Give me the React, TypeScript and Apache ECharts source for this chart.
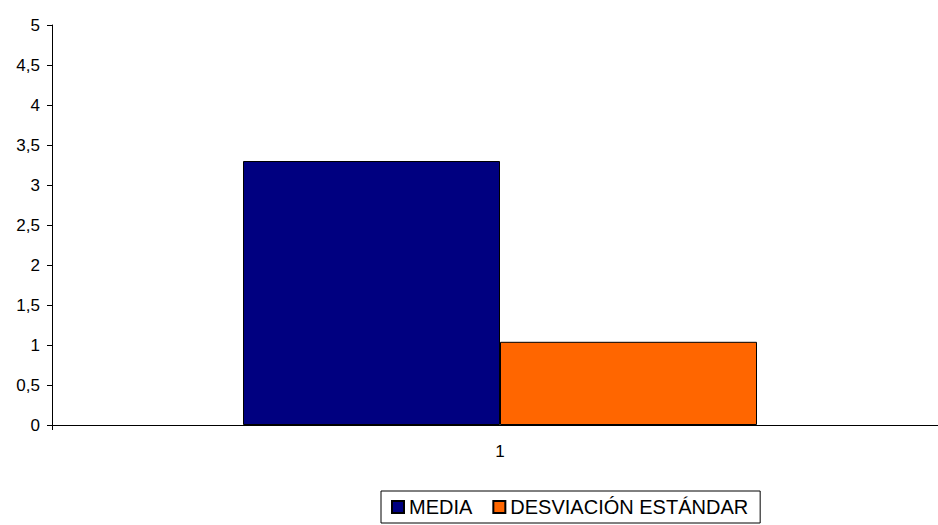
import React, { useEffect, useRef } from "react";
import * as echarts from "echarts";

const categories = ["1"];
const mediaValues = [3.3];
const desviacionValues = [1.04];
const seriesNames = ["MEDIA", "DESVIACIÓN ESTÁNDAR"];

export default function App() {
  const ref = useRef<HTMLDivElement>(null);
  useEffect(() => {
    if (!ref.current) return;
    const chart = echarts.init(ref.current, null, { renderer: "svg" });
    const font = "'Liberation Sans', Arial, sans-serif";
    chart.setOption({
      animation: false,
      backgroundColor: "#ffffff",
      grid: { left: 52, top: 25, width: 896, height: 400, containLabel: false },
      xAxis: {
        type: "category",
        data: categories,
        axisLine: { lineStyle: { color: "#000", width: 1 } },
        axisTick: { show: true, length: 5, lineStyle: { color: "#000" } },
        axisLabel: { color: "#000", fontSize: 17, fontFamily: font, margin: 18 },
        splitLine: { show: false },
      },
      yAxis: {
        type: "value",
        min: 0,
        max: 5,
        interval: 0.5,
        axisLine: { show: true, lineStyle: { color: "#000", width: 1 } },
        axisTick: { show: true, length: 5, lineStyle: { color: "#000" } },
        axisLabel: {
          color: "#000",
          fontSize: 17,
          fontFamily: font,
          margin: 12,
          formatter: (v: number) => String(v).replace(".", ","),
        },
        splitLine: { show: false },
      },
      legend: {
        data: seriesNames,
        left: 381,
        top: 491,
        icon: "rect",
        itemWidth: 12,
        itemHeight: 12,
        itemGap: 20,
        padding: [6, 12, 6, 10],
        borderColor: "#000",
        borderWidth: 1,
        textStyle: { color: "#000", fontSize: 20, fontFamily: font },
      },
      series: [
        {
          name: seriesNames[0],
          type: "bar",
          data: mediaValues,
          barWidth: 257,
          barGap: "0%",
          itemStyle: { color: "#000080", borderColor: "#000", borderWidth: 1 },
        },
        {
          name: seriesNames[1],
          type: "bar",
          data: desviacionValues,
          barWidth: 257,
          barGap: "0%",
          itemStyle: { color: "#ff6600", borderColor: "#000", borderWidth: 1 },
        },
      ],
    });
    return () => chart.dispose();
  }, []);
  return (
    <div
      ref={ref}
      style={{ position: "fixed", left: 0, top: 0, width: 960, height: 525, background: "#fff" }}
    />
  );
}
